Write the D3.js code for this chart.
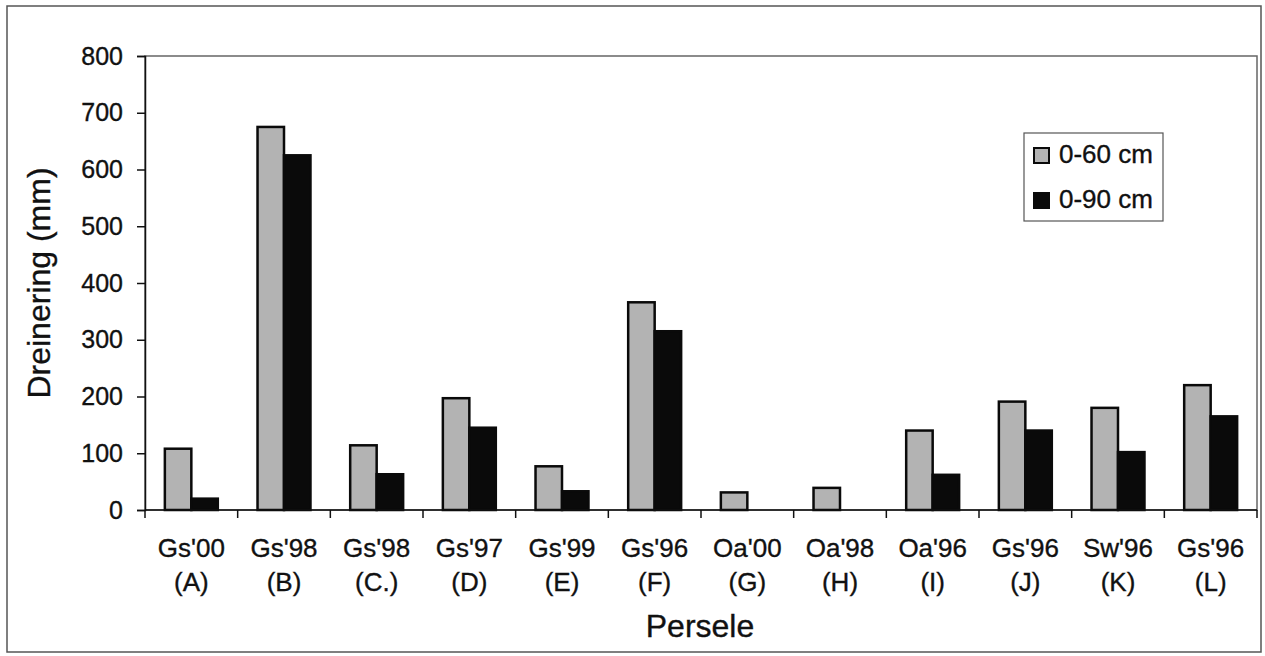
<!DOCTYPE html>
<html>
<head>
<meta charset="utf-8">
<script src="https://cdn.jsdelivr.net/npm/d3@7"></script>
<style>
  body { margin: 0; background: #fff; }
  svg { display: block; font-family: "Liberation Sans", Arial, sans-serif; }
  text { stroke: #111; stroke-width: 0.35px; }
</style>
</head>
<body>
<svg id="chart" width="1265" height="656"></svg>
<script>
// data
var plots = ["Gs'00", "Gs'98", "Gs'98", "Gs'97", "Gs'99", "Gs'96", "Oa'00", "Oa'98", "Oa'96", "Gs'96", "Sw'96", "Gs'96"];
var plotIds = ["(A)", "(B)", "(C.)", "(D)", "(E)", "(F)", "(G)", "(H)", "(I)", "(J)", "(K)", "(L)"];
var depth60 = [108, 675, 114, 197, 77, 366, 31, 39, 140, 191, 180, 220];
var depth90 = [20, 625, 63, 145, 33, 315, 0, 0, 62, 140, 102, 165];
var seriesNames = ["0-60 cm", "0-90 cm"];
var yTicks = [0, 100, 200, 300, 400, 500, 600, 700, 800];

var svg = d3.select('#chart');

// plot area
const pLeft = 145, pRight = 1257, pTop = 56, pBottom = 510;
const fontTick = 25;
const fontCat = 26;

// outer frame
svg.append('rect')
  .attr('x', 7).attr('y', 6)
  .attr('width', 1254).attr('height', 646)
  .attr('fill', '#fff')
  .attr('stroke', '#555').attr('stroke-width', 1.5);

// plot area frame
svg.append('rect')
  .attr('x', pLeft).attr('y', pTop)
  .attr('width', pRight - pLeft).attr('height', pBottom - pTop)
  .attr('fill', 'none')
  .attr('stroke', '#666').attr('stroke-width', 1.5);

var x = d3.scaleBand()
  .domain(d3.range(plots.length))
  .range([pLeft, pRight])
  .paddingInner(0).paddingOuter(0);

// 150% gap width, excel style
var bw = x.bandwidth() / 3.5;
var x1 = d3.scaleBand()
  .domain([0, 1])
  .range([bw * 0.75, bw * 2.75]);

var y = d3.scaleLinear()
  .domain([0, 800])
  .range([pBottom, pTop]);

// y axis
var yAxis = svg.append('g')
  .attr('transform', 'translate(' + pLeft + ',0)')
  .call(d3.axisLeft(y).tickValues(yTicks).tickSize(8).tickPadding(14));
yAxis.select('.domain').attr('stroke', '#111').attr('stroke-width', 1.5);
yAxis.selectAll('.tick line').attr('stroke', '#111').attr('stroke-width', 1.5);
yAxis.selectAll('.tick text')
  .attr('fill', '#111')
  .style('font-size', fontTick + 'px')
  .style('font-family', '"Liberation Sans", Arial, sans-serif');

// bars
var series = [depth60, depth90];
var fills = ['#b3b3b3', '#0a0a0a'];

series.forEach(function(vals, si){
  var rows = vals.map(function(v, i){ return {i: i, v: v}; })
    .filter(function(r){ return r.v > 0; });
  svg.append('g')
    .selectAll('rect')
    .data(rows)
    .enter()
    .append('rect')
    .attr('x', function(r){ return x(r.i) + x1(si); })
    .attr('y', function(r){ return y(r.v); })
    .attr('width', x1.bandwidth())
    .attr('height', function(r){ return pBottom - y(r.v); })
    .attr('fill', fills[si])
    .attr('stroke', '#0a0a0a')
    .attr('stroke-width', 2.5);
});

// x axis line and ticks on top of bars
var xAxis = svg.append('g');
xAxis.append('line')
  .attr('x1', pLeft).attr('x2', pRight)
  .attr('y1', pBottom).attr('y2', pBottom)
  .attr('stroke', '#111').attr('stroke-width', 1.5);
xAxis.selectAll('line.tk')
  .data(d3.range(plots.length + 1))
  .enter()
  .append('line')
  .attr('class', 'tk')
  .attr('x1', function(d){ return pLeft + d * x.step(); })
  .attr('x2', function(d){ return pLeft + d * x.step(); })
  .attr('y1', pBottom).attr('y2', pBottom + 8)
  .attr('stroke', '#111').attr('stroke-width', 1.5);

// category labels, two lines
var lbl = svg.append('g')
  .selectAll('text')
  .data(plots)
  .enter()
  .append('text')
  .attr('text-anchor', 'middle')
  .attr('fill', '#111')
  .style('font-size', fontCat + 'px');
lbl.append('tspan')
  .attr('x', function(d, i){ return x(i) + x.bandwidth() / 2; })
  .attr('y', 557)
  .text(function(d){ return d; });
lbl.append('tspan')
  .attr('x', function(d, i){ return x(i) + x.bandwidth() / 2; })
  .attr('y', 591)
  .text(function(d, i){ return plotIds[i]; });

// axis titles
svg.append('text')
  .attr('x', 700).attr('y', 637)
  .attr('text-anchor', 'middle')
  .attr('fill', '#111')
  .style('font-size', '32px')
  .text('Persele');

svg.append('text')
  .attr('transform', 'translate(50,283) rotate(-90)')
  .attr('text-anchor', 'middle')
  .attr('fill', '#111')
  .style('font-size', '32px')
  .text('Dreinering (mm)');

// legend
var legend = svg.append('g').attr('transform', 'translate(1024,133)');
legend.append('rect')
  .attr('width', 139).attr('height', 88)
  .attr('fill', '#fff')
  .attr('stroke', '#555').attr('stroke-width', 1.2);

var item = legend.selectAll('g.item')
  .data(seriesNames)
  .enter()
  .append('g')
  .attr('class', 'item')
  .attr('transform', function(d, i){ return 'translate(10,' + (15 + i * 45) + ')'; });
item.append('rect')
  .attr('width', 15).attr('height', 15)
  .attr('fill', function(d, i){ return fills[i]; })
  .attr('stroke', '#0a0a0a').attr('stroke-width', 2);
item.append('text')
  .attr('x', 25).attr('y', 15)
  .attr('fill', '#111')
  .style('font-size', '26px')
  .text(function(d){ return d; });
</script>
</body>
</html>
